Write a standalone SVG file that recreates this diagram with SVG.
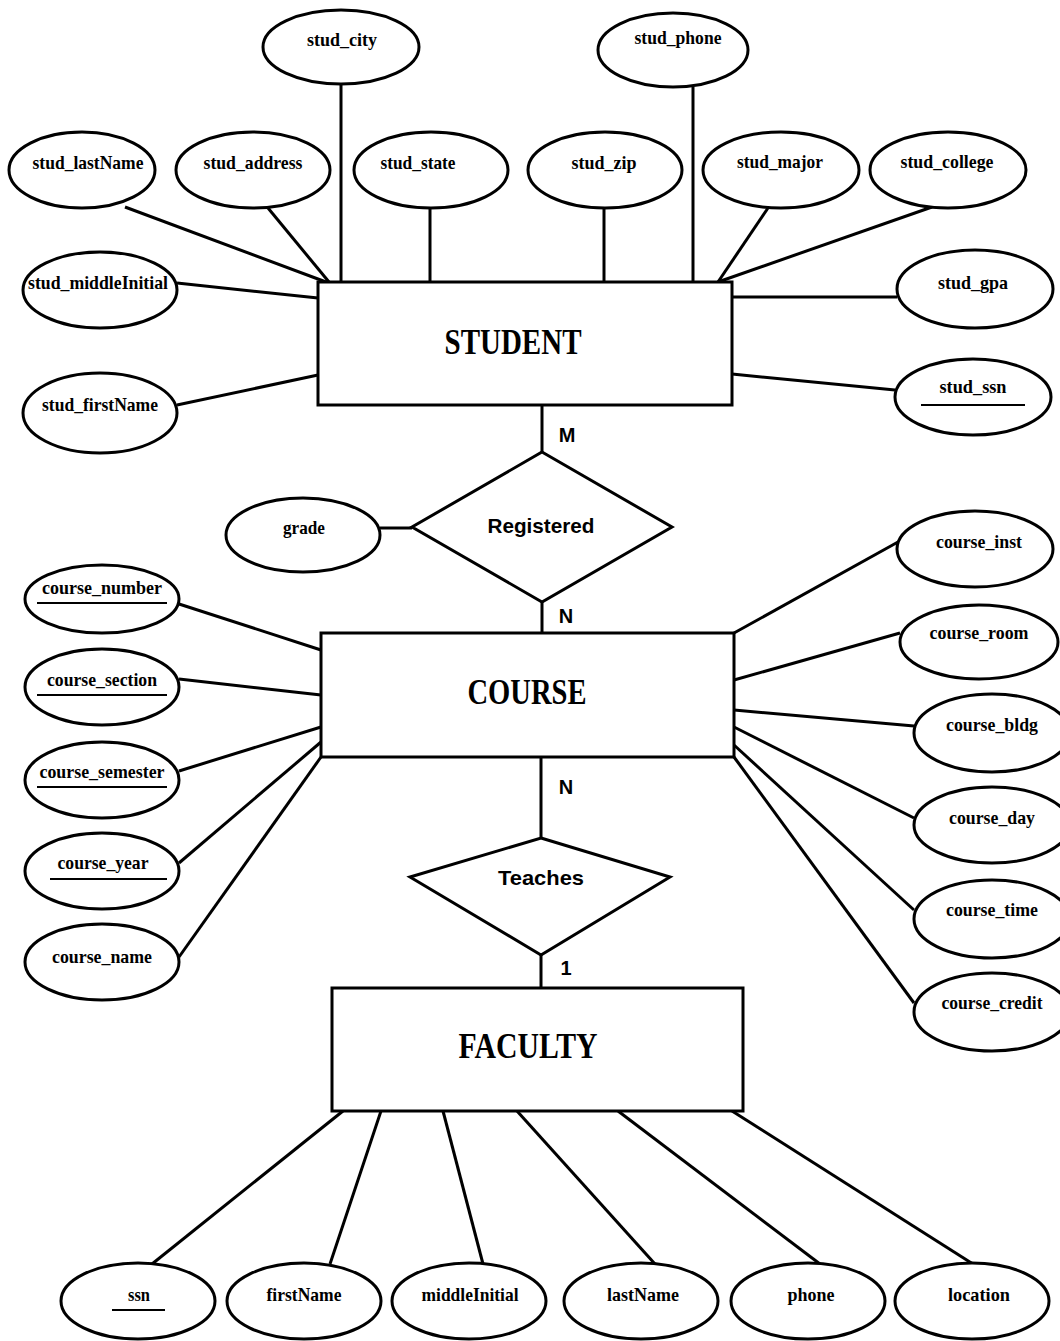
<svg xmlns="http://www.w3.org/2000/svg" width="1060" height="1341" viewBox="0 0 1060 1341">
  <style>
    .ent { fill: #fff; stroke: #000; stroke-width: 3; }
    .rel { fill: #fff; stroke: #000; stroke-width: 3; stroke-linejoin: miter; }
    .att { fill: #fff; stroke: #000; stroke-width: 3; }
    .edge { stroke: #000; stroke-width: 3; fill: none; }
    .key { stroke: #000; stroke-width: 2; }
    .at { font-family: "Liberation Serif", "Times New Roman", serif; font-weight: bold; font-size: 19px; text-anchor: middle; fill: #000; }
    .et { font-family: "Liberation Serif", "Times New Roman", serif; font-weight: bold; font-size: 36px; text-anchor: middle; fill: #000; }
    .rt { font-family: "Liberation Sans", Arial, sans-serif; font-weight: bold; font-size: 21px; text-anchor: middle; fill: #000; }
    .ct { font-family: "Liberation Sans", Arial, sans-serif; font-weight: bold; font-size: 20px; text-anchor: middle; fill: #000; }
  </style>
  <rect width="1060" height="1341" fill="#fff"/>

  <!-- connectors -->
  <g id="connectors">
    <!-- STUDENT attributes -->
    <line class="edge" x1="341" y1="84" x2="341" y2="282"/>
    <line class="edge" x1="693" y1="87" x2="693" y2="282"/>
    <line class="edge" x1="125" y1="207" x2="326" y2="282"/>
    <line class="edge" x1="268" y1="208" x2="329" y2="282"/>
    <line class="edge" x1="430" y1="208" x2="430" y2="282"/>
    <line class="edge" x1="604" y1="208" x2="604" y2="282"/>
    <line class="edge" x1="768" y1="208" x2="718" y2="282"/>
    <line class="edge" x1="932" y1="207" x2="718" y2="282"/>
    <line class="edge" x1="177" y1="283" x2="318" y2="298"/>
    <line class="edge" x1="177" y1="405" x2="318" y2="375"/>
    <line class="edge" x1="732" y1="297" x2="897" y2="297"/>
    <line class="edge" x1="732" y1="374" x2="895" y2="390"/>
    <!-- relationships -->
    <line class="edge" x1="542" y1="405" x2="542" y2="452"/>
    <line class="edge" x1="542" y1="602" x2="542" y2="633"/>
    <line class="edge" x1="380" y1="528" x2="412" y2="528"/>
    <line class="edge" x1="541" y1="757" x2="541" y2="838"/>
    <line class="edge" x1="541" y1="955" x2="541" y2="988"/>
    <!-- COURSE attributes -->
    <line class="edge" x1="179" y1="604" x2="321" y2="650"/>
    <line class="edge" x1="179" y1="679" x2="321" y2="695"/>
    <line class="edge" x1="179" y1="771" x2="321" y2="727"/>
    <line class="edge" x1="179" y1="863" x2="321" y2="742"/>
    <line class="edge" x1="179" y1="957" x2="321" y2="757"/>
    <line class="edge" x1="734" y1="633" x2="898" y2="542"/>
    <line class="edge" x1="734" y1="680" x2="900" y2="633"/>
    <line class="edge" x1="734" y1="710" x2="914" y2="726"/>
    <line class="edge" x1="734" y1="727" x2="914" y2="818"/>
    <line class="edge" x1="734" y1="745" x2="914" y2="910"/>
    <line class="edge" x1="734" y1="757" x2="914" y2="1003"/>
    <!-- FACULTY attributes -->
    <line class="edge" x1="343" y1="1111" x2="152" y2="1264"/>
    <line class="edge" x1="381" y1="1111" x2="330" y2="1264"/>
    <line class="edge" x1="443" y1="1111" x2="483" y2="1264"/>
    <line class="edge" x1="517" y1="1111" x2="655" y2="1264"/>
    <line class="edge" x1="618" y1="1111" x2="820" y2="1264"/>
    <line class="edge" x1="732" y1="1111" x2="973" y2="1264"/>
  </g>

  <!-- entities -->
  <g id="STUDENT">
    <rect class="ent" x="318" y="282" width="414" height="123"/>
    <text class="et" x="513" y="354" textLength="137" lengthAdjust="spacingAndGlyphs">STUDENT</text>
  </g>
  <g id="COURSE">
    <rect class="ent" x="321" y="633" width="413" height="124"/>
    <text class="et" x="527" y="704" textLength="119" lengthAdjust="spacingAndGlyphs">COURSE</text>
  </g>
  <g id="FACULTY">
    <rect class="ent" x="332" y="988" width="411" height="123"/>
    <text class="et" x="528" y="1058" textLength="139" lengthAdjust="spacingAndGlyphs">FACULTY</text>
  </g>

  <!-- relationships -->
  <g id="Registered">
    <polygon class="rel" points="542,452 672,527 542,602 412,527"/>
    <text class="rt" x="541" y="533" textLength="107" lengthAdjust="spacingAndGlyphs">Registered</text>
  </g>
  <g id="Teaches">
    <polygon class="rel" points="541,838 670,877 541,955 410,877"/>
    <text class="rt" x="541" y="885" textLength="86" lengthAdjust="spacingAndGlyphs">Teaches</text>
  </g>

  <!-- cardinalities -->
  <g id="cardinalities">
    <text class="ct" x="567" y="442">M</text>
    <text class="ct" x="566" y="623">N</text>
    <text class="ct" x="566" y="794">N</text>
    <text class="ct" x="566" y="975">1</text>
  </g>

  <!-- STUDENT attributes -->
  <g id="stud_city"><ellipse class="att" cx="341" cy="47" rx="78" ry="37"/><text class="at" x="342" y="46" textLength="70" lengthAdjust="spacingAndGlyphs">stud_city</text></g>
  <g id="stud_phone"><ellipse class="att" cx="673" cy="50" rx="75" ry="37"/><text class="at" x="678" y="44" textLength="87" lengthAdjust="spacingAndGlyphs">stud_phone</text></g>
  <g id="stud_lastName"><ellipse class="att" cx="82" cy="170" rx="73" ry="38"/><text class="at" x="88" y="169" textLength="111" lengthAdjust="spacingAndGlyphs">stud_lastName</text></g>
  <g id="stud_address"><ellipse class="att" cx="253" cy="170" rx="77" ry="38"/><text class="at" x="253" y="169" textLength="99" lengthAdjust="spacingAndGlyphs">stud_address</text></g>
  <g id="stud_state"><ellipse class="att" cx="431" cy="170" rx="77" ry="38"/><text class="at" x="418" y="169" textLength="75" lengthAdjust="spacingAndGlyphs">stud_state</text></g>
  <g id="stud_zip"><ellipse class="att" cx="605" cy="170" rx="77" ry="38"/><text class="at" x="604" y="169" textLength="65" lengthAdjust="spacingAndGlyphs">stud_zip</text></g>
  <g id="stud_major"><ellipse class="att" cx="781" cy="170" rx="78" ry="38"/><text class="at" x="780" y="168" textLength="86" lengthAdjust="spacingAndGlyphs">stud_major</text></g>
  <g id="stud_college"><ellipse class="att" cx="948" cy="170" rx="78" ry="38"/><text class="at" x="947" y="168" textLength="93" lengthAdjust="spacingAndGlyphs">stud_college</text></g>
  <g id="stud_middleInitial"><ellipse class="att" cx="100" cy="290" rx="77" ry="38"/><text class="at" x="98" y="289" textLength="140" lengthAdjust="spacingAndGlyphs">stud_middleInitial</text></g>
  <g id="stud_gpa"><ellipse class="att" cx="975" cy="289" rx="78" ry="39"/><text class="at" x="973" y="289" textLength="70" lengthAdjust="spacingAndGlyphs">stud_gpa</text></g>
  <g id="stud_firstName"><ellipse class="att" cx="100" cy="413" rx="77" ry="40"/><text class="at" x="100" y="411" textLength="116" lengthAdjust="spacingAndGlyphs">stud_firstName</text></g>
  <g id="stud_ssn"><ellipse class="att" cx="973" cy="397" rx="78" ry="38"/><text class="at" x="973" y="393" textLength="67" lengthAdjust="spacingAndGlyphs">stud_ssn</text><line class="key" x1="921" y1="405" x2="1025" y2="405"/></g>

  <!-- relationship attribute -->
  <g id="grade"><ellipse class="att" cx="303" cy="535" rx="77" ry="37"/><text class="at" x="304" y="534" textLength="42" lengthAdjust="spacingAndGlyphs">grade</text></g>

  <!-- COURSE attributes -->
  <g id="course_number"><ellipse class="att" cx="102" cy="599" rx="77" ry="34"/><text class="at" x="102" y="594" textLength="120" lengthAdjust="spacingAndGlyphs">course_number</text><line class="key" x1="37" y1="603" x2="167" y2="603"/></g>
  <g id="course_section"><ellipse class="att" cx="102" cy="687" rx="77" ry="38"/><text class="at" x="102" y="686" textLength="110" lengthAdjust="spacingAndGlyphs">course_section</text><line class="key" x1="37" y1="695" x2="167" y2="695"/></g>
  <g id="course_semester"><ellipse class="att" cx="102" cy="780" rx="77" ry="38"/><text class="at" x="102" y="778" textLength="125" lengthAdjust="spacingAndGlyphs">course_semester</text><line class="key" x1="37" y1="787" x2="167" y2="787"/></g>
  <g id="course_year"><ellipse class="att" cx="102" cy="871" rx="77" ry="38"/><text class="at" x="103" y="869" textLength="91" lengthAdjust="spacingAndGlyphs">course_year</text><line class="key" x1="50" y1="879" x2="167" y2="879"/></g>
  <g id="course_name"><ellipse class="att" cx="102" cy="962" rx="77" ry="38"/><text class="at" x="102" y="963" textLength="100" lengthAdjust="spacingAndGlyphs">course_name</text></g>
  <g id="course_inst"><ellipse class="att" cx="975" cy="549" rx="78" ry="38"/><text class="at" x="979" y="548" textLength="86" lengthAdjust="spacingAndGlyphs">course_inst</text></g>
  <g id="course_room"><ellipse class="att" cx="979" cy="642" rx="79" ry="37"/><text class="at" x="979" y="639" textLength="99" lengthAdjust="spacingAndGlyphs">course_room</text></g>
  <g id="course_bldg"><ellipse class="att" cx="992" cy="733" rx="78" ry="39"/><text class="at" x="992" y="731" textLength="92" lengthAdjust="spacingAndGlyphs">course_bldg</text></g>
  <g id="course_day"><ellipse class="att" cx="992" cy="825" rx="78" ry="38"/><text class="at" x="992" y="824" textLength="86" lengthAdjust="spacingAndGlyphs">course_day</text></g>
  <g id="course_time"><ellipse class="att" cx="992" cy="919" rx="78" ry="39"/><text class="at" x="992" y="916" textLength="92" lengthAdjust="spacingAndGlyphs">course_time</text></g>
  <g id="course_credit"><ellipse class="att" cx="992" cy="1012" rx="78" ry="39"/><text class="at" x="992" y="1009" textLength="101" lengthAdjust="spacingAndGlyphs">course_credit</text></g>

  <!-- FACULTY attributes -->
  <g id="ssn"><ellipse class="att" cx="138" cy="1301" rx="77" ry="38"/><text class="at" x="139" y="1301" textLength="22" lengthAdjust="spacingAndGlyphs">ssn</text><line class="key" x1="112" y1="1310" x2="165" y2="1310"/></g>
  <g id="firstName"><ellipse class="att" cx="304" cy="1301" rx="77" ry="38"/><text class="at" x="304" y="1301" textLength="75" lengthAdjust="spacingAndGlyphs">firstName</text></g>
  <g id="middleInitial"><ellipse class="att" cx="469" cy="1301" rx="77" ry="38"/><text class="at" x="470" y="1301" textLength="97" lengthAdjust="spacingAndGlyphs">middleInitial</text></g>
  <g id="lastName"><ellipse class="att" cx="641" cy="1301" rx="77" ry="38"/><text class="at" x="643" y="1301" textLength="72" lengthAdjust="spacingAndGlyphs">lastName</text></g>
  <g id="phone"><ellipse class="att" cx="808" cy="1301" rx="77" ry="38"/><text class="at" x="811" y="1301" textLength="47" lengthAdjust="spacingAndGlyphs">phone</text></g>
  <g id="location"><ellipse class="att" cx="972" cy="1301" rx="77" ry="38"/><text class="at" x="979" y="1301" textLength="62" lengthAdjust="spacingAndGlyphs">location</text></g>
</svg>
